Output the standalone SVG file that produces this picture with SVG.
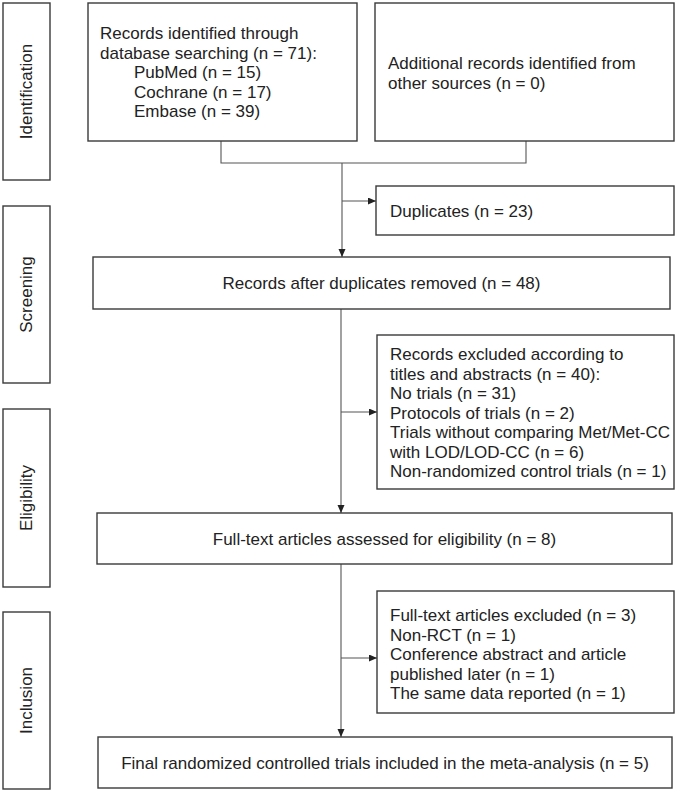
<svg xmlns="http://www.w3.org/2000/svg" width="677" height="792" viewBox="0 0 677 792">
<defs>
<style>
.box{fill:#fff;stroke:#3a3a3a;stroke-width:1.4}
.t{font-family:"Liberation Sans",Arial,sans-serif;font-size:17px;fill:#222}
.m{text-anchor:middle}
.c{fill:none;stroke:#555;stroke-width:1.1}
</style>
<marker id="ah" markerWidth="9" markerHeight="8" refX="8" refY="3.5" orient="auto" markerUnits="userSpaceOnUse">
<path d="M0,0 L8,3.5 L0,7 z" fill="#222"/>
</marker>
</defs>
<rect width="677" height="792" fill="#fff"/>

<g id="phase-identification">
<rect class="box" x="3" y="3" width="47" height="177"/>
<text class="t m" transform="translate(32,91.5) rotate(-90)">Identification</text>
</g>
<g id="phase-screening">
<rect class="box" x="3" y="206" width="47" height="177"/>
<text class="t m" transform="translate(32,294.5) rotate(-90)">Screening</text>
</g>
<g id="phase-eligibility">
<rect class="box" x="3" y="409" width="47" height="178"/>
<text class="t m" transform="translate(32,498) rotate(-90)">Eligibility</text>
</g>
<g id="phase-inclusion">
<rect class="box" x="3" y="612" width="47" height="177"/>
<text class="t m" transform="translate(32,700.5) rotate(-90)">Inclusion</text>
</g>

<g id="connectors">
<polyline class="c" points="221,141 221,163 526,163 526,141"/>
<line class="c" x1="342" y1="163" x2="342" y2="257" marker-end="url(#ah)"/>
<line class="c" x1="342" y1="201" x2="376" y2="201" marker-end="url(#ah)"/>
<line class="c" x1="341" y1="309" x2="341" y2="513" marker-end="url(#ah)"/>
<line class="c" x1="341" y1="412" x2="377" y2="412" marker-end="url(#ah)"/>
<line class="c" x1="341" y1="564" x2="341" y2="737" marker-end="url(#ah)"/>
<line class="c" x1="341" y1="658" x2="377" y2="658" marker-end="url(#ah)"/>
</g>

<g id="records-database">
<rect class="box" x="88" y="3" width="269" height="138"/>
<text class="t" x="100" y="39">Records identified through</text>
<text class="t" x="100" y="58.5">database searching (n = 71):</text>
<text class="t" x="134" y="78">PubMed (n = 15)</text>
<text class="t" x="134" y="97.5">Cochrane (n = 17)</text>
<text class="t" x="134" y="117">Embase (n = 39)</text>
</g>
<g id="records-other">
<rect class="box" x="375" y="3" width="299" height="138"/>
<text class="t" x="388" y="69">Additional records identified from</text>
<text class="t" x="388" y="88.5">other sources (n = 0)</text>
</g>
<g id="duplicates">
<rect class="box" x="376" y="186" width="298" height="49"/>
<text class="t" x="390" y="217">Duplicates (n = 23)</text>
</g>
<g id="after-duplicates">
<rect class="box" x="93" y="257" width="577" height="52"/>
<text class="t m" x="381.5" y="289">Records after duplicates removed (n = 48)</text>
</g>
<g id="excluded-titles">
<rect class="box" x="377" y="335" width="297" height="154"/>
<text class="t" x="390" y="360">Records excluded according to</text>
<text class="t" x="390" y="379.5">titles and abstracts (n = 40):</text>
<text class="t" x="390" y="399">No trials (n = 31)</text>
<text class="t" x="390" y="418.5">Protocols of trials (n = 2)</text>
<text class="t" x="390" y="438">Trials without comparing Met/Met-CC</text>
<text class="t" x="390" y="457.5">with LOD/LOD-CC (n = 6)</text>
<text class="t" x="390" y="477">Non-randomized control trials (n = 1)</text>
</g>
<g id="full-text">
<rect class="box" x="97" y="513" width="575" height="51"/>
<text class="t m" x="384.5" y="545">Full-text articles assessed for eligibility (n = 8)</text>
</g>
<g id="full-text-excluded">
<rect class="box" x="377" y="591" width="297" height="122"/>
<text class="t" x="390" y="621">Full-text articles excluded (n = 3)</text>
<text class="t" x="390" y="640.5">Non-RCT (n = 1)</text>
<text class="t" x="390" y="660">Conference abstract and article</text>
<text class="t" x="390" y="679.5">published later (n = 1)</text>
<text class="t" x="390" y="699">The same data reported (n = 1)</text>
</g>
<g id="final">
<rect class="box" x="98" y="737" width="574" height="51"/>
<text class="t m" x="385" y="769">Final randomized controlled trials included in the meta-analysis (n = 5)</text>
</g>
</svg>
